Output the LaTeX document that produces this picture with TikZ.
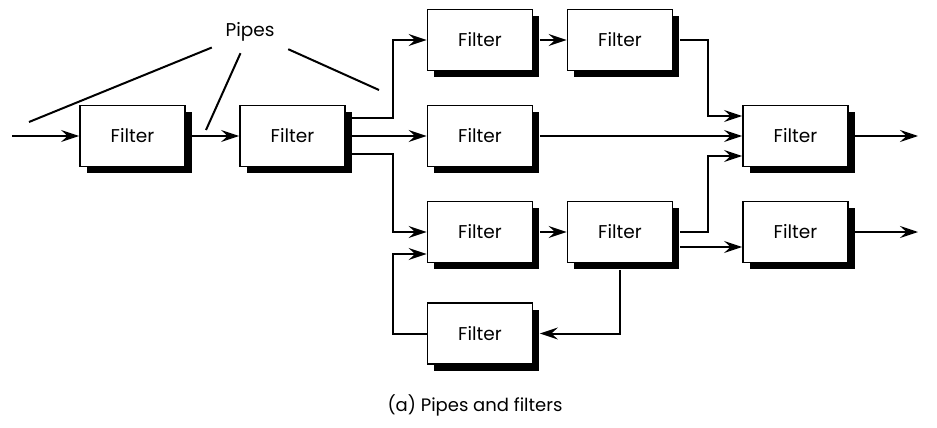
\documentclass[tikz,border=0pt]{standalone}
\usepackage{fontspec}
\setmainfont{Poppins}
\usetikzlibrary{arrows.meta, shadows, calc}

\begin{document}
\begin{tikzpicture}[x=1pt, y=-1pt,
  filterbox/.style={draw, line width=1.8pt, fill=white,
    minimum width=105pt, minimum height=61pt, font=\fontsize{18.5}{22}\selectfont,
    drop shadow={shadow xshift=6.5pt, shadow yshift=-6.5pt, fill=black, opacity=1}},
  pipe/.style={line width=2pt, -{Stealth[length=18pt, width=12pt, inset=6.5pt]}},
  callout/.style={line width=2pt}]

  % canvas
  \useasboundingbox (0,0) rectangle (937,428);

  % filters
  \node[filterbox] (f1)  at (132.5,136) {Filter};
  \node[filterbox] (f2)  at (292.5,136) {Filter};
  \node[filterbox] (f3)  at (480,40)    {Filter};
  \node[filterbox] (f4)  at (620,40)    {Filter};
  \node[filterbox] (f5)  at (480,136)   {Filter};
  \node[filterbox] (f6)  at (795.5,136) {Filter};
  \node[filterbox] (f7)  at (795.5,232) {Filter};
  \node[filterbox] (f8)  at (480,232)   {Filter};
  \node[filterbox] (f9)  at (620,232)   {Filter};
  \node[filterbox] (f10) at (480,333.5) {Filter};

  % branch / merge columns and free ends
  \coordinate (split) at (393,0);
  \coordinate (merge) at (708,0);
  \coordinate (in)    at (12,136);
  \coordinate (out1)  at (918,136);
  \coordinate (out2)  at (918,232);
  \coordinate (f6hi)  at ([yshift=20pt]f6.west);
  \coordinate (f6lo)  at ([yshift=-20pt]f6.west);
  \coordinate (f8lo)  at ([yshift=-22pt]f8.west);
  \coordinate (f7lo)  at ([yshift=-15pt]f7.west);

  % pipes
  \draw[pipe] (in) -- (f1.west);
  \draw[pipe] ([xshift=6.5pt]f1.east) -- (f2.west);
  \draw[pipe] ([xshift=6.5pt,yshift=18pt]f2.east) -| (split |- f3.west) -- (f3.west);
  \draw[pipe] ([xshift=6.5pt]f2.east) -- (f5.west);
  \draw[pipe] ([xshift=6.5pt,yshift=-18pt]f2.east) -| (split |- f8.west) -- (f8.west);
  \draw[pipe] ([xshift=6.5pt]f3.east) -- (f4.west);
  \draw[pipe] ([xshift=6.5pt]f4.east) -| (merge |- f6hi) -- (f6hi);
  \draw[pipe] ([xshift=6.5pt]f5.east) -- (f6.west);
  \draw[pipe] ([xshift=6.5pt]f8.east) -- (f9.west);
  \draw[pipe] ([xshift=6.5pt]f9.east) -| (merge |- f6lo) -- (f6lo);
  \draw[pipe] ([xshift=6.5pt,yshift=-15pt]f9.east) -- (f7lo);
  \draw[pipe] ([yshift=-6.5pt]f9.south) |- ([xshift=6.5pt]f10.east);
  \draw[pipe] (f10.west) -| (split |- f8lo) -- (f8lo);
  \draw[pipe] ([xshift=6.5pt]f6.east) -- (out1);
  \draw[pipe] ([xshift=6.5pt]f7.east) -- (out2);

  % label for the pipes
  \node[font=\fontsize{18.5}{22}\selectfont, minimum width=76pt, minimum height=42pt]
    (pipes) at (250,32) {Pipes};
  \coordinate (p1) at (29,122);
  \coordinate (p2) at (206,130);
  \coordinate (p3) at (379,90);
  \draw[callout] (pipes) -- (p1);
  \draw[callout] (pipes) -- (p2);
  \draw[callout] (pipes) -- (p3);

  % caption
  \node[font=\fontsize{18}{22}\selectfont] (caption) at (475,405) {(a) Pipes and filters};

\end{tikzpicture}
\end{document}
